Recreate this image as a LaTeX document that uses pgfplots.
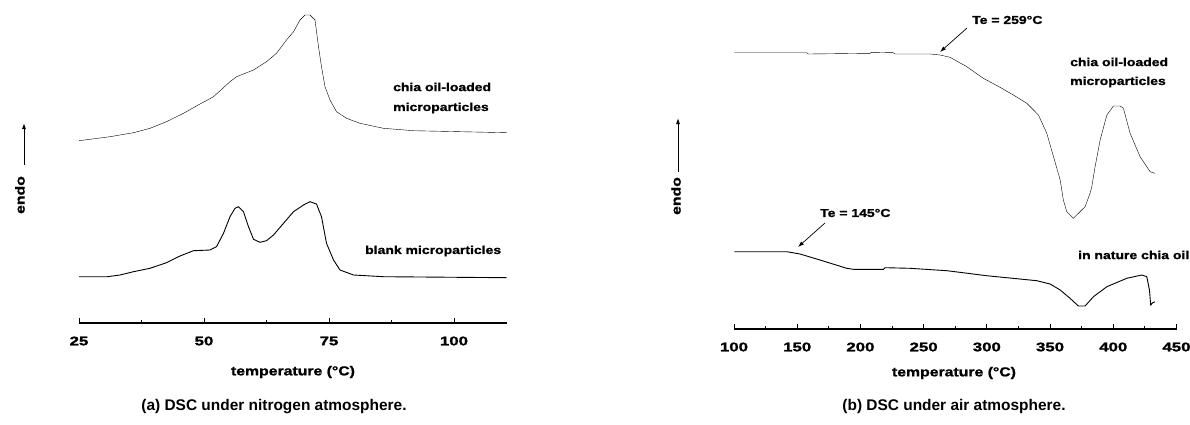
\documentclass[border=0pt]{standalone}
\usepackage{fontspec}
\setmainfont{Liberation Sans}
\newfontfamily\labfont{Liberation Sans}[FakeStretch=1.22,FakeBold=1.2]
\newfontfamily\tickfont{Liberation Sans}[FakeStretch=1.35,FakeBold=1.5]
\newcommand\labf{\labfont\bfseries}
\usepackage{pgfplots}
\pgfplotsset{compat=1.18}
\usetikzlibrary{arrows.meta}

\pgfplotstableread{
x y
25.0 182.3
31.2 186.3
35.9 190.3
39.2 194.7
42.5 201.3
45.9 209.7
49.2 219.0
51.9 226.3
55.2 241.3
56.5 246.3
59.9 253.0
62.5 261.3
64.5 269.7
66.5 283.0
67.9 291.3
69.2 303.0
70.2 308.0
71.2 308.0
72.2 303.0
72.9 276.3
73.5 256.3
74.2 236.3
75.2 223.0
76.5 211.3
78.5 204.7
81.2 199.7
85.9 194.7
91.9 192.3
110.5 190.3
}\chiaN

\pgfplotstableread{
x y
25.0 46.3
30.7 46.3
33.2 48.0
35.9 51.3
39.2 54.7
42.5 60.3
45.2 67.0
47.9 72.3
51.2 73.0
52.5 76.3
53.9 89.7
55.2 106.3
56.2 114.7
56.9 116.3
57.9 111.3
58.9 96.3
59.9 83.7
61.2 80.7
62.5 82.3
63.9 88.0
65.9 99.7
67.9 111.3
69.9 118.0
71.2 121.3
72.5 119.0
73.5 106.3
74.5 79.7
75.9 63.0
77.2 53.0
79.9 48.0
85.9 46.3
110.5 45.3
}\blankN

\pgfplotstableread{
x y
100.2 276.3
157.5 276.3
158.8 275.0
207.6 275.7
208.9 276.7
226.0 276.3
227.4 275.0
255.1 275.0
263.0 274.0
270.9 271.7
284.1 262.3
297.2 250.7
310.4 241.7
321.0 234.0
331.6 225.7
340.8 214.0
347.4 195.7
352.7 172.3
358.0 149.0
360.5 129.0
363.2 117.3
368.4 110.7
373.7 117.3
377.7 122.3
381.6 135.7
383.0 142.3
385.6 162.3
389.6 189.0
394.9 214.0
400.1 223.0
405.4 223.0
408.0 220.7
413.3 195.7
421.2 172.3
429.1 157.3
433.0 155.7
}\chiaAir

\pgfplotstableread{
x y
100.2 77.3
141.7 77.3
152.2 75.0
168.0 69.0
189.2 60.7
194.4 59.7
218.1 59.7
219.5 61.3
239.2 60.7
268.3 58.3
299.9 53.3
339.5 48.3
350.0 45.0
358.0 39.0
365.8 30.7
372.4 23.0
377.7 23.0
384.3 32.3
394.9 42.3
410.7 50.7
422.5 54.0
426.5 52.3
428.6 39.0
429.6 24.0
431.2 26.3
433.0 27.3
}\oilAir

\begin{document}
\begin{tikzpicture}
\useasboundingbox (0,0) rectangle (1190bp,-425bp);
\pgfplotsset{
  dscaxis/.style={
    scale only axis, clip=false,
    axis x line*=bottom, axis y line=none,
    axis line style={line width=1.1bp},
    tick align=inside, major tick length=5bp, minor tick length=3bp,
    every tick/.style={line width=1bp, black},
    ymin=0,
    xticklabel style={font=\tickfont\bfseries\fontsize{12.5}{14}\selectfont, anchor=center, yshift=-18bp},
    /pgf/number format/assume math mode=true,
    cycle list={{black, line width=0.9bp, no markers, smooth, tension=0.4}},
  }
}
% ---- left panel
\begin{axis}[dscaxis,
  at={(79bp,-323bp)}, anchor=south west,
  width=428bp, height=323bp,
  xmin=25, xmax=110.6, ymax=323,
  xtick={25,50,75,100}, minor xtick={37.5,62.5,87.5},
]
\addplot table[x=x,y=y] {\chiaN};
\addplot table[x=x,y=y] {\blankN};
\end{axis}
% ---- right panel
\begin{axis}[dscaxis,
  at={(734bp,-329bp)}, anchor=south west,
  width=442.5bp, height=329bp,
  xmin=100, xmax=450, ymax=329,
  xtick={100,150,...,450}, minor xtick={125,175,...,425},
]
\addplot table[x=x,y=y] {\chiaAir};
\addplot table[x=x,y=y] {\oilAir};
\end{axis}

% annotations
\begin{scope}[every node/.style={font=\labf\fontsize{11.5}{13}\selectfont, inner sep=0pt}]
\node[anchor=west] at (393bp,-87bp) {chia oil-loaded};
\node[anchor=west] at (393bp,-108bp) {microparticles};
\node[anchor=west] at (365bp,-251bp) {blank microparticles};
\node[anchor=west] at (972bp,-20bp) {Te = 259°C};
\node[anchor=west] at (1070bp,-62bp) {chia oil-loaded};
\node[anchor=west] at (1070bp,-82bp) {microparticles};
\node[anchor=west] at (820bp,-213bp) {Te = 145°C};
\node[anchor=west] at (1078bp,-255bp) {in nature chia oil};
\node[rotate=90, font=\labf\fontsize{13}{15}\selectfont] at (20bp,-195bp) {endo};
\node[rotate=90, font=\labf\fontsize{13}{15}\selectfont] at (676bp,-196bp) {endo};
\node[font=\labf\fontsize{13}{15}\selectfont] at (293bp,-372bp) {temperature (°C)};
\node[font=\labf\fontsize{13}{15}\selectfont] at (954bp,-373bp) {temperature (°C)};
\end{scope}
\draw[line width=0.9bp, -{Latex[length=6bp,width=4bp]}] (24bp,-165bp) -- (24bp,-123bp);
\draw[line width=0.9bp, -{Latex[length=6bp,width=4bp]}] (678bp,-172bp) -- (678bp,-118bp);
\draw[line width=0.7bp, -{Latex[length=6bp,width=4bp]}] (967bp,-28bp) -- (940bp,-52bp);
\draw[line width=0.7bp, -{Latex[length=6bp,width=4bp]}] (825bp,-223bp) -- (798bp,-247bp);

\node[font=\bfseries\fontsize{15.5}{17}\selectfont] at (274bp,-407bp) {(a) DSC under nitrogen atmosphere.};
\node[font=\bfseries\fontsize{15.5}{17}\selectfont] at (954bp,-407bp) {(b) DSC under air atmosphere.};
\end{tikzpicture}
\end{document}
